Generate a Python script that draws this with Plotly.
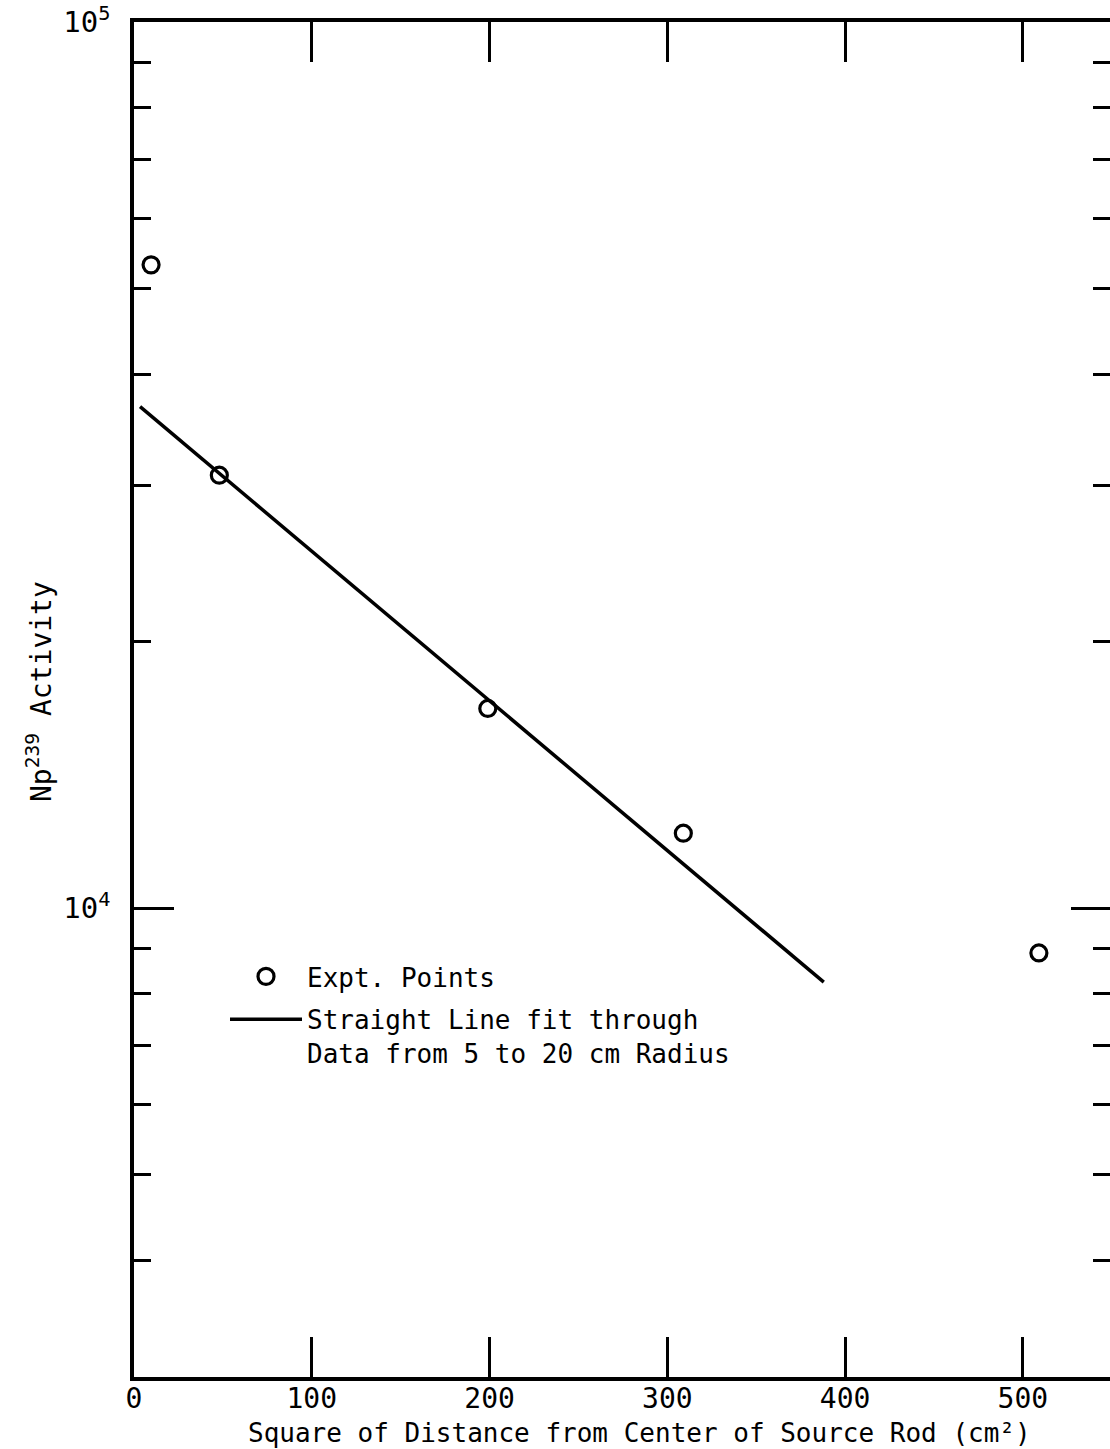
import numpy as np
import plotly.graph_objects as go

# ---- data ----
x_points = [9.6, 48.0, 199.0, 309.0, 509.0]          # cm^2
y_points = [53200, 30800, 16800, 12150, 8900]        # Np-239 activity
x_fit = [3.4, 388.0]
y_fit = [36800, 8250]

x_ticks = [0, 100, 200, 300, 400, 500]
x_tick_labels = ["0", "100", "200", "300", "400", "500"]
y_major = [1e4, 1e5]
y_major_labels = ["10<sup>4</sup>", "10<sup>5</sup>"]
y_minor = [4000, 5000, 6000, 7000, 8000, 9000,
           20000, 30000, 40000, 50000, 60000, 70000, 80000, 90000]

x_range = [0, 549]
y_range = [np.log10(2957), 5]

FONT = "DejaVu Sans Mono"
W, H = 1110, 1449
ML, MR, MT, MB = 134, 0, 22, 72
PW, PH = W - ML - MR, H - MT - MB


def px_to_paper_x(px):
    return (px - ML) / PW


def px_to_paper_y(py):
    return (H - MB - py) / PH


fig = go.Figure()
fig.add_trace(go.Scatter(
    x=x_points, y=y_points, mode="markers", name="Expt. Points",
    legendgroup="pts",
    marker=dict(symbol="circle-open", size=16, color="black",
                line=dict(width=3.2, color="black")),
    hoverinfo="x+y"))
fig.add_trace(go.Scatter(
    x=x_fit, y=y_fit, mode="lines",
    name="Straight Line fit through<br>Data from 5 to 20 cm Radius",
    legendgroup="fit",
    line=dict(color="black", width=3.5)))
# invisible helper trace so the right-hand tick axis is drawn
fig.add_trace(go.Scatter(
    x=x_fit, y=y_fit, yaxis="y2", mode="lines", opacity=0,
    line=dict(width=1, color="white"), showlegend=False, hoverinfo="skip"))

tickfont = dict(family=FONT, size=28, color="black")

fig.update_layout(
    width=W, height=H,
    margin=dict(l=ML, r=MR, t=MT, b=MB, pad=0),
    paper_bgcolor="white", plot_bgcolor="white",
    font=dict(family=FONT, color="black"),
    showlegend=True,
    legend=dict(
        x=px_to_paper_x(225), y=px_to_paper_y(953),
        xanchor="left", yanchor="top",
        bgcolor="rgba(0,0,0,0)", borderwidth=0,
        font=dict(family=FONT, size=26, color="black"),
        itemwidth=72, valign="top", tracegroupgap=6,
    ),
    xaxis=dict(
        range=x_range, tickvals=x_ticks, ticktext=x_tick_labels,
        ticks="inside", ticklen=40, tickwidth=2.5, tickcolor="black",
        showline=True, linewidth=3.5, linecolor="black", mirror="ticks",
        showgrid=False, zeroline=False, tickfont=tickfont,
        ticklabelstandoff=-6, ticklabeloverflow="allow",
    ),
    yaxis=dict(
        type="log", range=y_range,
        tickvals=y_major, ticktext=y_major_labels,
        ticks="inside", ticklen=40, tickwidth=2.5, tickcolor="black",
        showline=True, linewidth=3.5, linecolor="black",
        showgrid=False, zeroline=False, tickfont=dict(family=FONT, size=29, color="black"),
        ticklabelstandoff=14, ticklabeloverflow="allow",
        minor=dict(tickvals=y_minor, ticks="inside", ticklen=17,
                   tickwidth=2.5, tickcolor="black", showgrid=False),
    ),
    yaxis2=dict(
        type="log", range=y_range, overlaying="y", side="right",
        tickvals=y_major, ticks="inside", ticklen=39, tickwidth=2.5,
        tickcolor="black", showticklabels=False, showline=False,
        showgrid=False, zeroline=False,
        minor=dict(tickvals=y_minor, ticks="inside", ticklen=17,
                   tickwidth=2.5, tickcolor="black", showgrid=False),
    ),
    annotations=[
        dict(text="Square of Distance from Center of Source Rod (cm²)",
             xref="paper", yref="paper",
             x=px_to_paper_x(639), y=px_to_paper_y(1433),
             xanchor="center", yanchor="middle", showarrow=False,
             font=dict(family=FONT, size=26, color="black")),
        dict(text="Np<sup>239</sup> Activity",
             xref="paper", yref="paper",
             x=px_to_paper_x(39), y=px_to_paper_y(692),
             xanchor="center", yanchor="middle", showarrow=False,
             textangle=-90,
             font=dict(family=FONT, size=28, color="black")),
    ],
)

fig.write_html("out.html")
